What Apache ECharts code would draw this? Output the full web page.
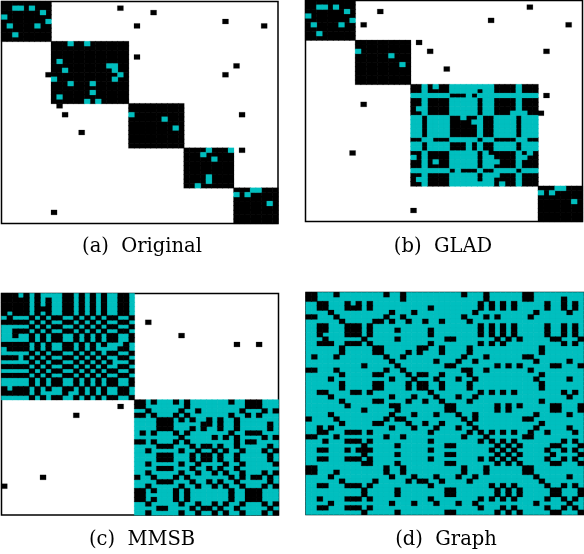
<!DOCTYPE html>
<html>
<head>
<meta charset="utf-8">
<style>html,body{margin:0;padding:0;background:#fff}#c{width:584px;height:554px}</style>
<script src="https://cdn.jsdelivr.net/npm/echarts@6/dist/echarts.min.js"></script>
</head>
<body>
<div id="c"></div>
<script>
// Cell values: 1 = black, 2 = teal, absent = white. Indices are matrix [row, col].
const N = 50;
const captions = ['(a)  Original', '(b)  GLAD', '(c)  MMSB', '(d)  Graph'];

// (a) Original
const clustersA = [9, 14, 10, 9, 8];
const tealA = [[1,2],[1,3],[1,5],[2,7],[3,0],[4,8],[5,1],[5,6],[7,2],[9,12],[9,15],[13,10],[14,19],[14,20],[15,11],[15,20],[16,21],[17,9],[17,20],[18,12],[18,16],[20,16],[21,10],[22,15],[22,17],[25,23],[26,29],[28,31],[33,37],[33,41],[34,36],[35,38],[39,37],[40,37],[41,35],[42,45],[42,46],[43,42],[43,44],[45,48]];
const blackA = [[1,21],[2,27],[4,40],[5,24],[5,47],[12,24],[14,42],[16,8],[16,40],[23,10],[25,11],[25,43],[29,14],[33,43],[47,9]];

// (b) GLAD
const clustersB = [9, 10, 23, 8];
const tealB = [[1,2],[1,3],[1,5],[2,7],[3,0],[4,8],[5,1],[5,6],[7,2],[11,9],[12,15],[14,17],[42,45],[42,46],[43,42],[43,44],[45,48]];
const blackB = [[1,40],[2,13],[4,33],[5,10],[5,47],[9,20],[11,22],[11,43],[15,25],[21,43],[23,10],[25,42],[34,8],[47,19]];
const blockRowB = 19;
const blockB = [
'##.#.##........####.###',
'##.####.....#..####.###',
'.......###.#...........',
'##.####.....#..####.###',
'##.####.....#..####.###',
'#..####.....#..####.###',
'##.####.....#..###...##',
'..#....##.##.##....#...',
'..#....####..##....#...',
'..#....#####.##....#...',
'..#....#####.##....#...',
'..#....#####.##....#...',
'##..###.....#..####..##',
'..#....###.#.##....#...',
'..#....###.#.##....#...',
'##.####.....#.#####.#.#',
'.#.####.....#..####..##',
'##.#.##.....#...###.###',
'##.####.....#..####.###',
'.......#.###.##....#...',
'##.####.....#...###.###',
'#..####.....#..####.###',
'##.####........#.##.###'
];

// (c) MMSB
const clustersC = [24, 26];
const blackOffC = [[6,26],[9,32],[11,42],[11,46],[25,21],[27,13],[41,7],[43,0]];
const blockTopC = [
'###.#.#....##.#.#.#..##.',
'#####.#.#..##.#.#.#..##.',
'#####.#.#..##.#.#.#..##.',
'#####.###..##.#.#.#..##.',
'#.###.#.#..##.#.#.#..##.',
'.#...#.#.##..#.#.#.##..#',
'#####.#.#..##.#.#.#..##.',
'.....#.#.##..#.#.#.##..#',
'..###.#.#..##.#.#.#..##.',
'..#..#.#.##..#.#.#.##..#',
'.....#.#.##..#.#.#.##..#',
'#####.#.#..##.#.#.#...#.',
'.####.#.#..##.#.#....##.',
'.....#.#.##..#.#.#.##..#',
'###.#.#.#..##.#.#.#..##.',
'.....#.#.##..#.#.#.#...#',
'#####.#.#..##.#.#.#..##.',
'.....#.#.##..#.#.#.##..#',
'#####.#.#..##.#.#.#..##.',
'.....#.#.##..#.#.#.##..#',
'.....#.#.##..#.#.#.##..#',
'#.###.#.#..##.#.#.#..##.',
'#####.#....#..#.#.#..##.',
'.....#.#.##..#.#.#.##..#'
];
const blockBottomC = [
[0,1,3,7,9,17,20,21,22],[0,1,9,20,21,22],[2,8,11,19,23,25],[0,1,3,7,9,17,20,22],
[4,5,6,8,10,13,15,18],[4,5,6,12,13,15,18,24],[4,5,6,10,12,15,18,24],[1,3,7,9,17,20,21,22],
[8,14,16,18,23,25],[0,1,3,7,9,18,20,21],[4,5,6,10,12,13,15,18,24],[2,8,11,14,16,19,23,25],
[4,5,6,10,12,13,15,18,24],[4,5,6,10,12,13,15,18,24],[2,8,11,16,19,25],[4,5,6,10,13,15,18],
[2,8,11,14,16,19,23,25],[0,3,7,9,17,19,21,22,24],[4,5,6,10,13,15,18,24],[2,8,11,14,16,19,23,25],
[0,1,3,7,9,17,20,21,22],[0,1,7,9,17,20,21,22],[0,1,3,7,9,17,20,21,22],[2,8,11,14,16,19,23,25],
[4,5,10,12,13,15,18,24],[2,8,11,14,16,19,23,25]
];

// (d) Graph: black columns of each row
const blackD = [
[0,1,5,14,17,28,32,39,40],[0,1,17,32,39,40,46],[2,3,7,9,11,31,33,35,37,43,46,48],[2,3,7,8,9,11,22,31,33,35,37,43,46,48],
[4,15,19,30,41,47],[0,1,5,14,17,28,32,34,40],[6,12,13,15,18,21,24,29],[2,3,7,8,9,11,31,33,35,37,43,46,48],
[2,3,7,8,9,11,16,22,31,33,35,37,43,46,48],[2,7,8,9,11,22,31,33,35,37,43,46,48],[3,10,16,25,26,34,36,38,44,45,49],[2,3,4,7,8,9,11,22,31,33,35,46,48],
[6,12,13,20,21,24,29,42],[6,12,13,18,20,24,29,42],[1,5,14,17,28,32,39,40],[15,23,27,30,41,47],
[10,16,25,26,34,36,38,44,45,49],[0,1,5,14,17,28,29,32,40],[6,12,13,18,20,21,24,29,42],[4,15,19,23,27,30,41,47],
[6,12,13,18,20,21,24,29,42],[6,12,13,18,20,21,24,29,42],[2,3,8,9,11,22,31,33,35,37,46,48],[4,15,19,23,27,30,47],
[6,12,13,18,21,24,29,42],[7,15,16,25,26,34,36,38,44,45,49],[10,16,25,26,34,36,44,45,49],[4,15,19,23,27,30,41,47],
[0,5,14,16,17,28,30,39,40],[6,12,13,18,21,24,29,42],[2,4,15,19,23,27,30,41,47],[2,3,7,8,9,11,22,29,31,33,35,37,40,43,48],
[0,1,5,14,17,28,32,39,40],[3,7,8,9,11,22,31,33,35,37,46,48],[10,16,25,26,34,36,38,44,45,49],[2,3,7,9,10,11,22,33,35,37,43,46,48],
[10,16,25,26,34,36,38,44,49],[2,3,7,8,9,11,22,31,33,35,37,43,46,48],[10,11,16,25,26,34,36,38,44,45,49],[0,1,14,17,28,32,39,40],
[0,1,5,14,17,28,32,39,40],[4,15,19,23,27,30,41,47],[6,12,18,20,21,24,29,42],[2,3,7,8,9,11,22,33,35,37,43,46,48],
[10,16,25,26,34,36,38,44,45,49],[10,16,25,26,34,36,38,44,45,49],[2,7,8,9,11,22,31,33,35,37,43,46,48],[4,15,19,23,27,30,41,47],
[2,3,7,8,9,11,31,35,37,43,46,48],[10,16,25,26,34,36,38,44,45,49]
];

function emptyMatrix(fill) {
  const m = [];
  for (let r = 0; r < N; r++) m.push(new Array(N).fill(fill));
  return m;
}
function putClusters(m, sizes, value) {
  let s = 0;
  sizes.forEach(n => {
    for (let r = s; r < s + n; r++) for (let c = s; c < s + n; c++) m[r][c] = value;
    s += n;
  });
}
function putCells(m, cells, value) { cells.forEach(p => { m[p[0]][p[1]] = value; }); }
function putStrings(m, rows, start) {
  rows.forEach((row, r) => {
    for (let c = 0; c < row.length; c++) m[start + r][start + c] = row[c] === '#' ? 1 : 2;
  });
}

const mA = emptyMatrix(0);
putClusters(mA, clustersA, 1); putCells(mA, tealA, 2); putCells(mA, blackA, 1);

const mB = emptyMatrix(0);
putClusters(mB, clustersB, 1); putCells(mB, tealB, 2); putCells(mB, blackB, 1);
putStrings(mB, blockB, blockRowB);

const mC = emptyMatrix(0);
putStrings(mC, blockTopC, 0);
for (let r = 0; r < clustersC[1]; r++) for (let c = 0; c < clustersC[1]; c++) {
  const o = clustersC[0];
  mC[o + r][o + c] = blockBottomC[r].indexOf(c) >= 0 ? 1 : 2;
}
putCells(mC, blackOffC, 1);

const mD = emptyMatrix(2);
blackD.forEach((cols, r) => cols.forEach(c => { mD[r][c] = 1; }));

function toData(m, value) {
  const out = [];
  m.forEach((row, r) => row.forEach((v, c) => { if (v === value) out.push([c, r, v]); }));
  return out;
}
const labels = Array.from({ length: N }, (_, i) => String(i));
const matrices = [mA, mB, mC, mD];
const boxes = [
  { left: 1.5, top: 1.5, width: 276.5, height: 222 },
  { left: 305.5, top: 0.5, width: 277, height: 221 },
  { left: 1.5, top: 293.5, width: 277, height: 221.5 },
  { left: 306, top: 292.5, width: 277.5, height: 222 }
];
const capPos = [[142, 237], [443, 237], [142, 530], [446, 530]];
const colors = { 1: '#000000', 2: '#00BFBF' };
const drawOrder = [[1, 2], [1, 2], [2, 1], [2, 1]];

const series = [];
matrices.forEach((m, i) => {
  drawOrder[i].forEach(v => series.push({
    type: 'heatmap', xAxisIndex: i, yAxisIndex: i, data: toData(m, v), progressive: 0,
    itemStyle: { color: colors[v], borderColor: colors[v], borderWidth: 0.2 },
    emphasis: { disabled: true }, silent: true
  }));
});

const chart = echarts.init(document.getElementById('c'), null, { renderer: 'canvas' });
chart.setOption({
  animation: false,
  backgroundColor: '#fff',
  title: captions.map((t, i) => ({
    text: t, left: capPos[i][0], top: capPos[i][1], textAlign: 'center', padding: 0,
    textStyle: { fontFamily: 'DejaVu Serif', fontSize: 19.5, fontWeight: 'normal', color: '#000' }
  })),
  grid: boxes.map(b => Object.assign({ show: true, borderColor: '#000', borderWidth: 1.5, backgroundColor: '#fff', containLabel: false }, b)),
  xAxis: boxes.map((b, i) => ({ type: 'category', gridIndex: i, data: labels, show: false })),
  yAxis: boxes.map((b, i) => ({ type: 'category', gridIndex: i, data: labels, show: false, inverse: true })),
  series: series
});
</script>
</body>
</html>
